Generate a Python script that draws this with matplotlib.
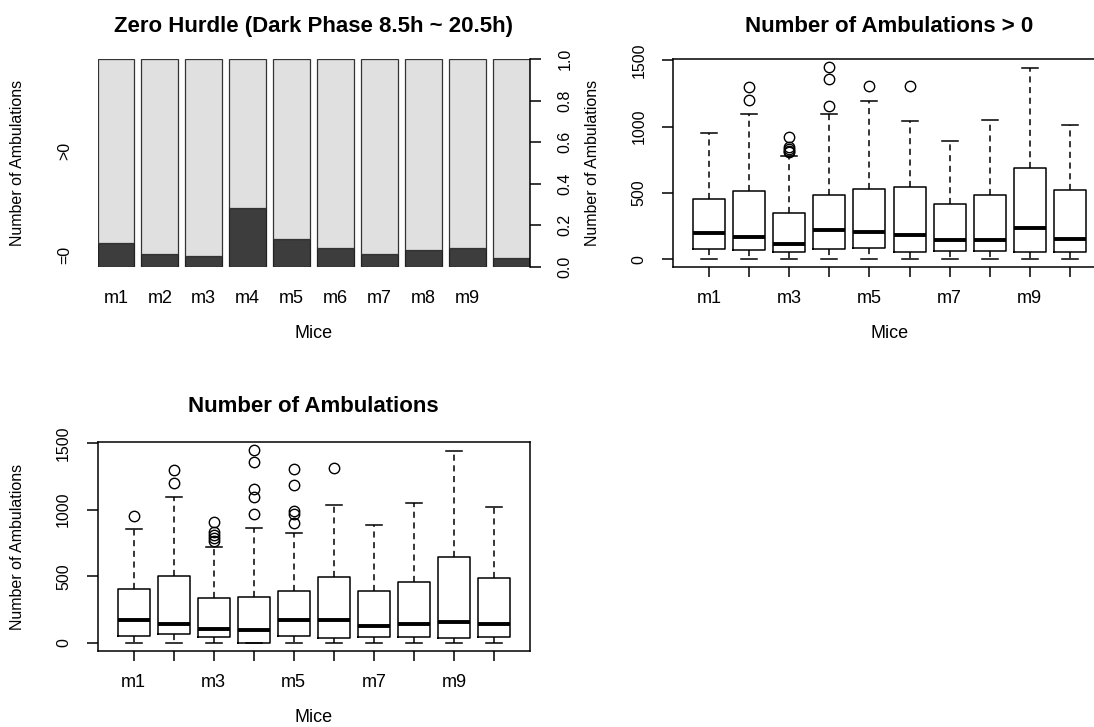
import numpy as np
import matplotlib
matplotlib.use('Agg')
import matplotlib.pyplot as plt

plt.rcParams['font.family'] = ['Liberation Sans', 'DejaVu Sans']

W, H = 1094, 727

mice = ['m1', 'm2', 'm3', 'm4', 'm5', 'm6', 'm7', 'm8', 'm9', 'm10']

# share of dark-phase intervals with zero ambulations, per mouse
zero_frac = [0.112, 0.061, 0.051, 0.281, 0.132, 0.091, 0.061, 0.080, 0.091, 0.040]

# box statistics, intervals with ambulations > 0
pos_wlo = [1, 1, 1, 1, 1, 1, 1, 1, 1, 1]
pos_q1 = [78, 68, 53, 75, 85, 53, 60, 58, 53, 53]
pos_med = [200, 165, 118, 223, 205, 183, 145, 148, 238, 155]
pos_q3 = [451, 513, 346, 486, 533, 541, 418, 483, 686, 521]
pos_whi = [949, 1092, 776, 1097, 1190, 1042, 889, 1052, 1444, 1014]
pos_fliers = [[], [1202, 1302], [806, 818, 830, 849, 918], [1155, 1362, 1450],
              [1307], [1310], [], [], [], []]

# box statistics, all intervals
all_wlo = [0, 0, 0, 0, 0, 0, 0, 0, 0, 0]
all_q1 = [50, 68, 47, 0, 53, 38, 43, 48, 38, 45]
all_med = [173, 145, 106, 99, 173, 173, 130, 140, 160, 143]
all_q3 = [406, 506, 334, 347, 391, 493, 393, 458, 644, 486]
all_whi = [859, 1092, 717, 863, 829, 1039, 887, 1052, 1443, 1017]
all_fliers = [[952], [1202, 1300], [766, 786, 811, 836, 911], [969, 1097, 1155, 1360, 1448],
              [904, 967, 992, 1187, 1305], [1310], [], [], [], []]

fig = plt.figure(figsize=(W / 100, H / 100), dpi=100)


def px_axes(left, top, right, bottom):
    return fig.add_axes([left / W, 1 - bottom / H, (right - left) / W, (bottom - top) / H])


TITLE = dict(fontsize=16, fontweight='bold', ha='center', va='baseline')
XTICK = 13
YTICK = 11.5
LAB_X = 13
LAB_Y = 11.5
LW = 1.1

# ---- spineplot: zero hurdle ----
ax1 = px_axes(97.5, 59.3, 530, 266.7)
n = len(mice)
gap = 0.02
bw = 1.0 / n
lefts = np.arange(n) * (bw + gap)
z = np.array(zero_frac)
ax1.bar(lefts, z, width=bw, align='edge', color='#3d3d3d', edgecolor='#222222', lw=0.9)
ax1.bar(lefts, 1 - z, bottom=z, width=bw, align='edge', color='#e0e0e0', edgecolor='#333333', lw=0.9)
ax1.set_xlim(0, lefts[-1] + bw)
ax1.set_ylim(0, 1)
for s in ax1.spines.values():
    s.set_visible(False)
ax1.set_xticks(lefts + bw / 2)
ax1.set_xticklabels([m if m != 'm10' else '' for m in mice], fontsize=XTICK)
ax1.tick_params(axis='x', length=0, pad=16.5)
ax1.set_yticks([z[0] / 2, (1 + z[0]) / 2])
ax1.set_yticklabels(['=0', '>0'], rotation=90, va='center', fontsize=YTICK)
ax1.tick_params(axis='y', length=0, pad=18)
ax1.set_xlabel('Mice', fontsize=LAB_X, va='center')
ax1.xaxis.set_label_coords(0.5, -0.322)
ax1.set_ylabel('Number of Ambulations', fontsize=LAB_Y, va='center')
ax1.yaxis.set_label_coords(-0.184, 0.5)
ax1.text(0.5, 1.1316, 'Zero Hurdle (Dark Phase 8.5h ~ 20.5h)', transform=ax1.transAxes, **TITLE)

ax1r = ax1.twinx()
ax1r.set_ylim(0, 1)
for k, s in ax1r.spines.items():
    s.set_visible(k == 'right')
ax1r.spines['right'].set_linewidth(LW)
ax1r.set_yticks(np.linspace(0, 1, 6))
ax1r.set_yticklabels(['%.1f' % v for v in np.linspace(0, 1, 6)], rotation=90, va='center', fontsize=YTICK)
ax1r.tick_params(axis='y', length=8, width=LW, pad=12)


def draw_boxes(ax, wlo, q1, med, q3, whi, fliers, title, title_y):
    stats = [dict(whislo=a, q1=b, med=c, q3=d, whishi=e, fliers=f)
             for a, b, c, d, e, f in zip(wlo, q1, med, q3, whi, fliers)]
    ax.bxp(stats, positions=np.arange(1, n + 1), widths=0.8, capwidths=0.4,
           manage_ticks=False,
           boxprops=dict(color='black', lw=LW),
           medianprops=dict(color='black', lw=2.8, solid_capstyle='butt'),
           whiskerprops=dict(color='black', lw=LW, linestyle=(0, (4, 3))),
           capprops=dict(color='black', lw=LW),
           flierprops=dict(marker='o', markerfacecolor='none', markeredgecolor='black',
                           markersize=7.5, markeredgewidth=1.0))
    hi = max(max(whi), max(max(f) if f else 0 for f in fliers))
    lo = min(wlo)
    pad = (hi - lo) * 0.04
    ax.set_ylim(lo - pad, hi + pad)
    ax.set_xlim(0.1, n + 0.9)
    for s in ax.spines.values():
        s.set_linewidth(LW)
    ax.set_xticks(np.arange(1, n + 1))
    ax.set_xticklabels([m if i % 2 == 0 else '' for i, m in enumerate(mice)], fontsize=XTICK)
    ax.tick_params(axis='x', length=7.2, width=LW, pad=9.5)
    ax.set_yticks([0, 500, 1000, 1500])
    ax.set_yticklabels(['0', '500', '1000', '1500'], rotation=90, va='center', fontsize=YTICK)
    ax.tick_params(axis='y', length=8, width=LW, pad=11)
    ax.set_xlabel('Mice', fontsize=LAB_X, va='center')
    ax.xaxis.set_label_coords(0.5, -0.322)
    ax.set_ylabel('Number of Ambulations', fontsize=LAB_Y, va='center')
    ax.yaxis.set_label_coords(-0.186, 0.5)
    ax.text(0.5, title_y, title, transform=ax.transAxes, **TITLE)


# ---- boxplot: ambulations > 0 ----
ax2 = px_axes(673, 59.3, 1106, 266.7)
draw_boxes(ax2, pos_wlo, pos_q1, pos_med, pos_q3, pos_whi, pos_fliers,
           'Number of Ambulations > 0', 1.1316)

# ---- boxplot: all intervals ----
ax3 = px_axes(97.5, 442.3, 530, 650.7)
draw_boxes(ax3, all_wlo, all_q1, all_med, all_q3, all_whi, all_fliers,
           'Number of Ambulations', 1.1468)

fig.savefig('out.png', dpi=100)
